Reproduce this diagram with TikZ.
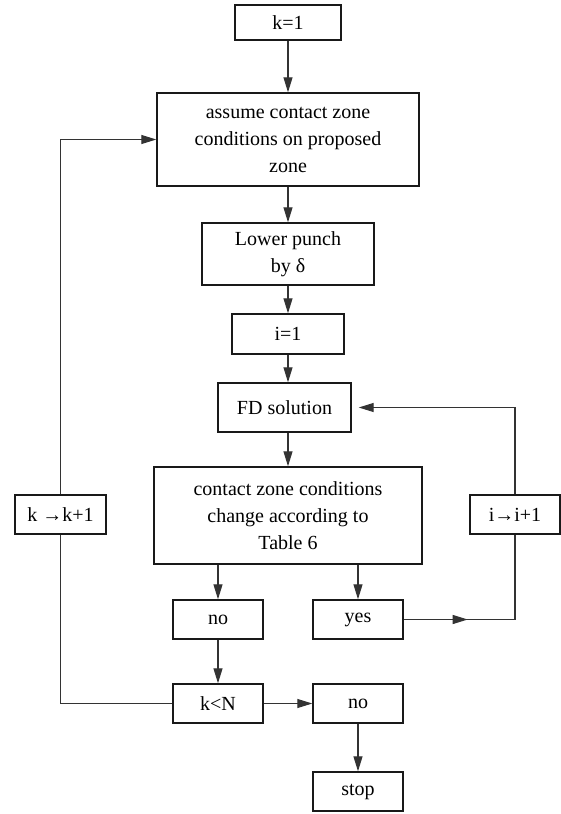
\documentclass[tikz,border=0pt]{standalone}
\usepackage{fontspec}
\setmainfont{LiberationSerif}[Extension=.ttf,UprightFont=*-Regular,BoldFont=*-Bold]
\usetikzlibrary{arrows.meta,decorations.markings}
\begin{document}
\begin{tikzpicture}[x=1pt,y=-1pt,
  box/.style={draw=black!90,line width=1.4pt,minimum width=90pt,minimum height=39pt,
              inner sep=0pt,align=center,font=\fontsize{20}{27}\selectfont},
  link/.style={draw=black!80,line width=1.1pt},
  arr/.style={link,-{Triangle[length=15pt,width=9pt]}},
  midarr/.style={postaction={decorate},decoration={markings,
      mark=at position 64pt with {\arrow{Triangle[length=15pt,width=9pt]}}}}]
  \useasboundingbox (0,0) rectangle (561,814);
  \node[box,minimum width=106pt,minimum height=35pt] (k1) at (288,22.5) {k=1};
  \node[box,minimum width=262pt,minimum height=93pt] (assume) at (288,139.5)
       {assume contact zone\\conditions on proposed\\zone};
  \node[box,minimum width=172pt,minimum height=62pt] (lower) at (288,254) {Lower punch\\by δ};
  \node[box,minimum width=112pt,minimum height=40pt] (i1) at (288,334) {i=1};
  \node[box,minimum width=133pt,minimum height=49pt] (fd) at (284.5,407.5) {FD solution};
  \node[box,minimum width=268pt,minimum height=97pt] (cz) at (288,515.5)
       {contact zone conditions\\change according to\\Table 6};
  \node[box,minimum width=91pt] (kk) at (60.5,514.5) {k →k+1};
  \node[box] (ii) at (515,514.5) {i→i+1};
  \node[box] (no1) at (218,619.5) {no};
  \node[box] (yes) at (358,619.5) {yes};
  \node[box] (kn) at (218,703.5) {k<N};
  \node[box] (no2) at (358,703.5) {no};
  \node[box] (stop) at (358,791.5) {stop};
  \draw[arr] (k1) -- (assume);
  \draw[arr] (assume) -- (lower);
  \draw[arr] (lower) -- (i1);
  \draw[arr] (i1.south) -- (i1.south |- fd.north);
  \draw[arr] (fd.south -| cz) -- (cz.north);
  \draw[arr] (cz.south -| no1) -- (no1.north);
  \draw[arr] (cz.south -| yes) -- (yes.north);
  \draw[arr] (no1) -- (kn);
  \draw[arr] (kn) -- (no2);
  \draw[arr] (no2) -- (stop);
  \draw[link,midarr] (yes.east) -| (ii.south);
  \draw[arr,shorten >=7pt] (ii.north) |- (fd.east);
  \draw[link] (kn.west) -| (kk.south);
  \draw[arr] (kk.north) |- (assume.west);
\end{tikzpicture}
\end{document}
